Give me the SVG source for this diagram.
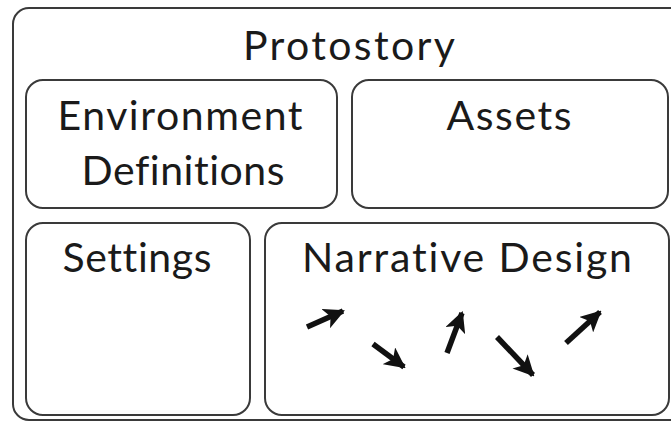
<svg xmlns="http://www.w3.org/2000/svg" width="671" height="422" viewBox="0 0 671 422">
<defs>
<style>
.box{fill:#fff;stroke:#3a3a3a;stroke-width:2}
.t{font-family:Lato,"Open Sans",sans-serif;font-size:41px;fill:#1a1a1a;text-anchor:middle;font-variant-ligatures:none}
.arr{stroke:#111;stroke-width:5.5;fill:none;stroke-linecap:butt;marker-end:url(#ah)}
</style>
<marker id="ah" viewBox="0 0 10 10" refX="9" refY="5" markerWidth="3.8" markerHeight="3.8" orient="auto" markerUnits="strokeWidth">
<path d="M0,0 L10,5 L0,10 L2.5,5 z" fill="#111"/>
</marker>
</defs>
<rect width="671" height="422" fill="#fff"/>
<g id="protostory">
<rect class="box" x="13" y="8" width="672" height="412" rx="16"/>
<text class="t" x="349" y="60" textLength="212" lengthAdjust="spacing">Protostory</text>
</g>
<g id="environment-definitions">
<rect class="box" x="26" y="80" width="311" height="128" rx="17"/>
<text class="t" x="180" y="130" textLength="245" lengthAdjust="spacing">Environment</text>
<text class="t" x="183" y="185" textLength="203" lengthAdjust="spacing">Definitions</text>
</g>
<g id="assets">
<rect class="box" x="352" y="80" width="316" height="128" rx="17"/>
<text class="t" x="509" y="130" textLength="125" lengthAdjust="spacing">Assets</text>
</g>
<g id="settings">
<rect class="box" x="26" y="223" width="224" height="192" rx="17"/>
<text class="t" x="137" y="272" textLength="149" lengthAdjust="spacing">Settings</text>
</g>
<g id="narrative-design">
<rect class="box" x="265" y="223" width="404" height="192" rx="17"/>
<text class="t" x="467" y="272" textLength="330" lengthAdjust="spacing">Narrative Design</text>
</g>
<g id="connectors">
<line class="arr" x1="307" y1="327" x2="343" y2="311"/>
<line class="arr" x1="373" y1="344" x2="404" y2="367"/>
<line class="arr" x1="447" y1="353" x2="462" y2="313"/>
<line class="arr" x1="497" y1="337" x2="533" y2="375"/>
<line class="arr" x1="566" y1="343" x2="600" y2="312"/>
</g>
</svg>
